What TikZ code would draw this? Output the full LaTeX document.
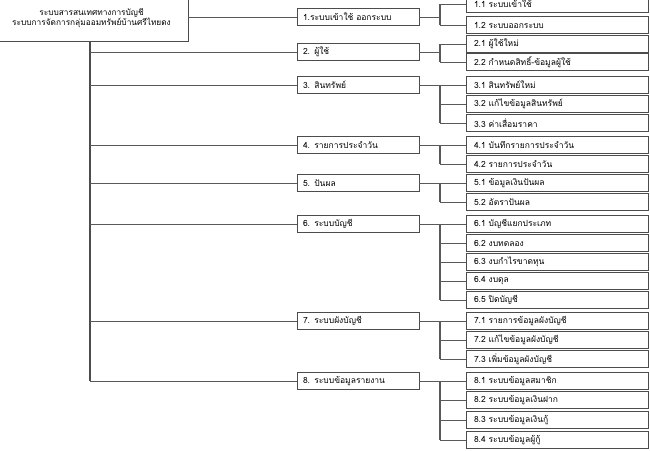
\documentclass[tikz,border=0pt]{standalone}
\usepackage{fontspec}
\setmainfont[Script=Thai]{Loma}
\begin{document}
\begin{tikzpicture}[x=1pt,y=-1pt,
  line/.style={draw=black!65,line width=0.8pt},
  spine/.style={draw=black!70,line width=1.4pt},
  rootbox/.style={draw=black!70,line width=0.9pt,minimum width=193pt,minimum height=46pt,align=center,font=\fontsize{8.3}{10}\selectfont},
  lvone/.style={draw=black!70,line width=0.9pt,minimum height=17pt,inner ysep=1pt,inner xsep=6pt,text width=110pt,align=left,font=\fontsize{8.5}{9}\selectfont},
  lvtwo/.style={draw=black!70,line width=0.9pt,minimum height=17pt,inner ysep=1pt,inner xsep=8pt,text width=166pt,align=left,font=\fontsize{8.5}{9}\selectfont}]
\useasboundingbox (0,0) rectangle (650,450);
\fill[white] (0,0) rectangle (650,450);
\node[rootbox] (root) at (91.5,18) {ระบบสารสนเทศทางการบัญชี\\ระบบการจัดการกลุ่มออมทรัพย์บ้านศรีไทยดง};
% level one
\node[lvone] (b1) at (358,17) {1.ระบบเข้าใช้ ออกระบบ};
\node[lvone] (b2) at (358,52) {2. ผู้ใช้};
\node[lvone] (b3) at (358,85) {3. สินทรัพย์};
\node[lvone] (b4) at (358,145) {4. รายการประจำวัน};
\node[lvone] (b5) at (358,183) {5. ปันผล};
\node[lvone] (b6) at (358,224) {6. ระบบบัญชี};
\node[lvone] (b7) at (358,321) {7. ระบบผังบัญชี};
\node[lvone] (b8) at (358,381) {8. ระบบข้อมูลรายงาน};
% level two
\foreach \n/\y/\t in {
  c11/4/{1.1 ระบบเข้าใช้},
  c12/25/{1.2 ระบบออกระบบ},
  c21/44/{2.1 ผู้ใช้ใหม่},
  c22/62/{2.2 กำหนดสิทธิ์-ข้อมูลผู้ใช้},
  c31/85/{3.1 สินทรัพย์ใหม่},
  c32/104/{3.2 แก้ไขข้อมูลสินทรัพย์},
  c33/123/{3.3 ค่าเสื่อมราคา},
  c41/145/{4.1 บันทึกรายการประจำวัน},
  c42/164/{4.2 รายการประจำวัน},
  c51/183/{5.1 ข้อมูลเงินปันผล},
  c52/202/{5.2 อัตราปันผล},
  c61/224/{6.1 บัญชีแยกประเภท},
  c62/243/{6.2 งบทดลอง},
  c63/262/{6.3 งบกำไรขาดทุน},
  c64/281/{6.4 งบดุล},
  c65/300/{6.5 ปิดบัญชี},
  c71/321/{7.1 รายการข้อมูลผังบัญชี},
  c72/340/{7.2 แก้ไขข้อมูลผังบัญชี},
  c73/359/{7.3 เพิ่มข้อมูลผังบัญชี},
  c81/381/{8.1 ระบบข้อมูลสมาชิก},
  c82/400/{8.2 ระบบข้อมูลเงินฝาก},
  c83/420/{8.3 ระบบข้อมูลเงินกู้},
  c84/440/{8.4 ระบบข้อมูลผู้กู้}}
  \node[lvtwo] (\n) at (557,\y) {\t};
\coordinate (bx) at (440,0);
% root connectors
\draw[line] (root.east |- b1) -- (b1.west);
\draw[spine] (root.south -| 90,0) -- (90,0 |- b8);
\foreach \b in {b2,b3,b4,b5,b6,b7,b8}
  \draw[line] (90,0 |- \b) -- (\b.west);
% child connectors
\foreach \p/\first/\last/\kids in {
  b1/c11/c12/{c11,c12},
  b2/c21/c22/{c21,c22},
  b3/c31/c33/{c31,c32,c33},
  b4/c41/c42/{c41,c42},
  b5/c51/c52/{c51,c52},
  b6/c61/c65/{c61,c62,c63,c64,c65},
  b7/c71/c73/{c71,c72,c73},
  b8/c81/c84/{c81,c82,c83,c84}}{
  \draw[line] (\p.east) -- (bx |- \p);
  \draw[line,line width=1.1pt] (bx |- \first) -- (bx |- \last);
  \foreach \k in \kids
    \draw[line] (bx |- \k) -- (\k.west);
}
\end{tikzpicture}
\end{document}
